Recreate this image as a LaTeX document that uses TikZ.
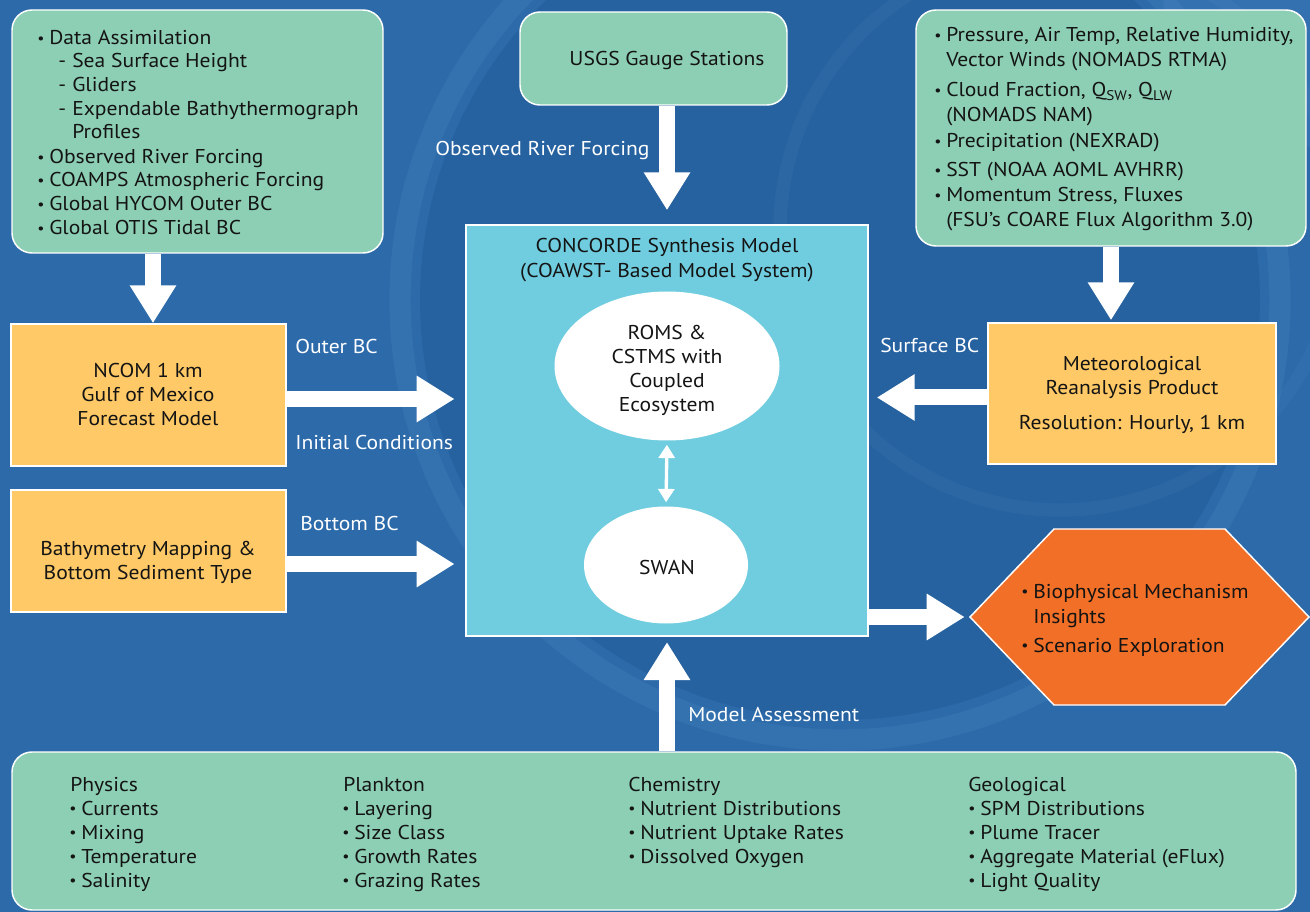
\documentclass[tikz,border=0pt]{standalone}
\usepackage{fontspec}
\setmainfont{PT Sans}[FakeStretch=1.08]
\usetikzlibrary{arrows.meta,fit,calc,shapes.geometric}
\definecolor{bgblue}{RGB}{44,106,170}
\definecolor{bgdark}{RGB}{36,92,152}
\definecolor{bglight}{RGB}{88,145,200}
\definecolor{boxgreen}{RGB}{141,207,181}
\definecolor{boxcyan}{RGB}{112,205,224}
\definecolor{boxyellow}{RGB}{254,201,102}
\definecolor{hexorange}{RGB}{242,111,39}
\definecolor{textblack}{RGB}{20,20,20}
\newcommand\bul{\llap{\raisebox{0.9pt}{\fontsize{11}{11}\selectfont\textbullet}\hspace{3.5pt}}}
\newcommand\dsh{\llap{-\hspace{4.5pt}}}
\begin{document}
\begin{tikzpicture}[x=0.75pt,y=-0.75pt,
  font=\fontsize{15}{18}\selectfont,
  box/.style={draw=white,line width=1.1pt,inner sep=0pt},
  greenbox/.style={box,fill=boxgreen,rounded corners=15pt},
  ybox/.style={box,fill=boxyellow},
  txt/.style={anchor=base west,inner sep=0pt,text=textblack},
  ctxt/.style={anchor=base,inner sep=0pt,text=textblack},
  wtxt/.style={anchor=base west,inner sep=0pt,text=white},
  blk/.style={draw=white,line width=12pt,-{Triangle[width=33pt,length=28.5pt]}},
  oval/.style={ellipse,fill=white,inner sep=0pt}]
\useasboundingbox (0,0) rectangle (1310,912);
% background
\begin{scope}
\clip (0,0) rectangle (1310,912);
\fill[bgblue] (0,0) rectangle (1310,912);
\fill[bgdark,opacity=0.5] (840,300) circle[radius=315pt];
\draw[bglight,opacity=0.18,line width=16pt] (840,300) circle[radius=330pt];
\draw[bglight,opacity=0.12,line width=10pt] (1060,230) circle[radius=210pt];
\fill[bglight,opacity=0.2] (1310,0) circle[radius=110pt];
\end{scope}
% boxes
\node[greenbox,fit={(12,10)(383,253)}] (da) {};
\node[greenbox,fit={(520,12)(787,105)}] (usgs) {};
\node[greenbox,fit={(916,10)(1306,246)}] (tr) {};
\node[box,fill=boxcyan,fit={(466,225)(868,636)}] (cm) {};
\node[ybox,fit={(11,324)(286,466)}] (ncom) {};
\node[ybox,fit={(11,490)(286,612)}] (bathy) {};
\node[ybox,fit={(988,323)(1276,464)}] (met) {};
\node[greenbox,fit={(12,752)(1296,910)}] (bot) {};
\draw[white,line width=1.1pt,fill=hexorange] (970,617) -- (1054,529) -- (1225,529) -- (1309,617) -- (1225,705) -- (1054,705) -- cycle;
\node[inner sep=0pt,fit={(970,529)(1309,705)}] (hex) {};
\node[oval,minimum width=168.75pt,minimum height=111.75pt] (roms) at (667,366) {};
\node[oval,minimum width=123pt,minimum height=87.75pt] (swan) at (666,565) {};
% arrows
\draw[blk] ($(ncom.north |- da.south)+(4.5,0)$) -- ($(ncom.north)+(4.5,0)$);
\draw[blk,shorten >=10.5pt] (cm.north |- usgs.south) -- (cm.north);
\draw[blk,shorten >=1.5pt] (tr.south) -- (tr.south |- met.north);
\draw[blk,shorten >=8pt] ($(ncom.east)+(0,4)$) -- ($(ncom.east -| cm.west)+(0,4)$);
\draw[blk,shorten >=8pt] ($(bathy.east)+(0,13)$) -- ($(bathy.east -| cm.west)+(0,13)$);
\draw[blk,shorten >=6pt] ($(met.west)+(0,4)$) -- ($(met.west -| cm.east)+(0,4)$);
\draw[blk,shorten >=3.75pt] (cm.east |- hex.west) -- (hex.west);
\draw[blk,shorten >=4pt] (cm.south |- bot.north) -- (cm.south);
\draw[white,line width=2.5pt,{Triangle[width=12pt,length=10pt]}-{Triangle[width=12pt,length=10pt]},shorten <=3pt,shorten >=3pt] (roms.south) -- (swan.north);
% top-left text
\foreach \xx/\yy/\lbl [count=\i] in {49/45/{\bul Data Assimilation},72/68/{\dsh Sea Surface Height},72/92/{\dsh Gliders},72/116/{\dsh Expendable Bathythermograph},72/139/{Profiles},49/164/{\bul Observed River Forcing},49/187/{\bul COAMPS Atmospheric Forcing},49/211/{\bul Global HYCOM Outer BC},49/235/{\bul Global OTIS Tidal BC}}
  \node[txt] (dat\i) at (\xx,\yy) {\lbl};
% top-right text
\foreach \yy/\lbl [count=\i] in {42/{\bul Pressure, Air Temp, Relative Humidity,},67/{Vector Winds (NOMADS RTMA)},97/{\bul Cloud Fraction, Q\textsubscript{SW}, Q\textsubscript{LW}},122/{(NOMADS NAM)},148/{\bul Precipitation (NEXRAD)},177/{\bul SST (NOAA AOML AVHRR)},202/{\bul Momentum Stress, Fluxes},227/{(FSU’s COARE Flux Algorithm 3.0)}}
  \node[txt] (trt\i) at (946,\yy) {\lbl};
\node[ctxt] (usgst) at (667,66) {USGS Gauge Stations};
% central
\node[ctxt] (cmt1) at (667,253) {CONCORDE Synthesis Model};
\node[ctxt] (cmt2) at (667,278) {(COAWST- Based Model System)};
\foreach \yy/\lbl [count=\i] in {340/{ROMS \&},364/{CSTMS with},388/{Coupled},412/{Ecosystem}}
  \node[ctxt] (romst\i) at (667,\yy) {\lbl};
\node[ctxt] (swant) at (667,575) {SWAN};
% yellow boxes
\foreach \yy/\lbl [count=\i] in {378/{NCOM 1 km},402/{Gulf of Mexico},426/{Forecast Model}}
  \node[ctxt] (ncomt\i) at (148,\yy) {\lbl};
\foreach \yy/\lbl [count=\i] in {556/{Bathymetry Mapping \&},579/{Bottom Sediment Type}}
  \node[ctxt] (batht\i) at (148,\yy) {\lbl};
\foreach \yy/\lbl [count=\i] in {371/{Meteorological},395/{Reanalysis Product},430/{Resolution: Hourly, 1 km}}
  \node[ctxt] (mett\i) at (1132,\yy) {\lbl};
% hexagon
\foreach \yy/\lbl [count=\i] in {598/{\bul Biophysical Mechanism},623/{Insights},652/{\bul Scenario Exploration}}
  \node[txt] (hext\i) at (1033,\yy) {\lbl};
% white labels
\node[wtxt] (lorf) at (435,156) {Observed River Forcing};
\node[wtxt] (lobc) at (295,354) {Outer BC};
\node[wtxt] (lic) at (295,450) {Initial Conditions};
\node[wtxt] (lbbc) at (300,531) {Bottom BC};
\node[wtxt] (lsbc) at (880,353) {Surface BC};
\node[wtxt] (lma) at (688,721) {Model Assessment};
% bottom box
\foreach \hx/\tx/\a/\b/\c/\d/\e [count=\i] in {70/81/Physics/Currents/Mixing/Temperature/Salinity,343/354/Plankton/Layering/Size Class/Growth Rates/Grazing Rates,968/980/Geological/SPM Distributions/Plume Tracer/Aggregate Material (eFlux)/Light Quality}
{
  \node[txt] (bh\i) at (\hx,791) {\a};
  \node[txt] (bb\i a) at (\tx,815) {\bul\b};
  \node[txt] (bb\i b) at (\tx,839) {\bul\c};
  \node[txt] (bb\i c) at (\tx,863) {\bul\d};
  \node[txt] (bb\i d) at (\tx,887) {\bul\e};
}
\node[txt] (chh) at (628,791) {Chemistry};
\node[txt] (ch1) at (640,815) {\bul Nutrient Distributions};
\node[txt] (ch2) at (640,839) {\bul Nutrient Uptake Rates};
\node[txt] (ch3) at (640,863) {\bul Dissolved Oxygen};
\end{tikzpicture}
\end{document}
